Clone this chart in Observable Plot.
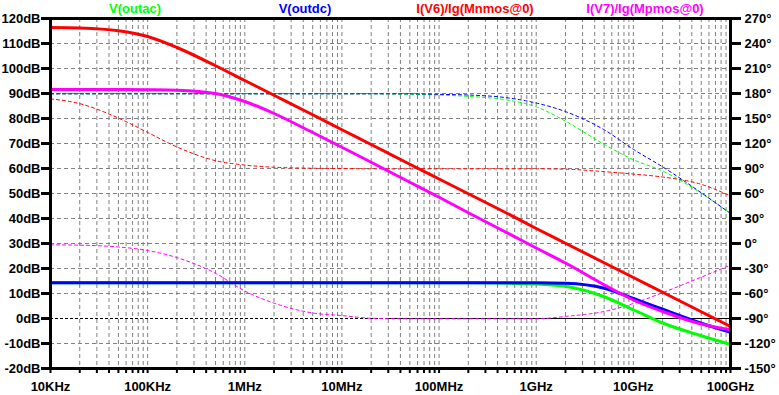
<!DOCTYPE html>
<html><head><meta charset="utf-8">
<script src="https://cdn.jsdelivr.net/npm/d3@7"></script>
<script src="https://cdn.jsdelivr.net/npm/@observablehq/plot@0.6"></script>
<style>
body{margin:0;background:#fff;}
#wrap{position:relative;width:779px;height:395px;font-family:"Liberation Sans",Arial,sans-serif;font-weight:bold;font-size:13px;}
#legend{position:absolute;top:2px;left:50px;width:680px;display:flex;line-height:13px;}
#legend span{flex:1;text-align:center;}
svg{display:block;}
</style></head><body>
<div id="wrap"><div id="legend"></div></div>
<script>
// Frequencies (Hz)
const freq = [1e4,2e4,5e4,1e5,2e5,5e5,1e6,2e6,5e6,1e7,2e7,5e7,1e8,2e8,5e8,1e9,2e9,5e9,1e10,2e10,5e10,1e11];
// Magnitudes (dB)
const outacMag = [14.3,14.3,14.3,14.3,14.3,14.3,14.3,14.3,14.3,14.3,14.3,14.3,14.3,14.3,14.1,13.8,12.9,8.7,3.5,-1.8,-6.9,-10.4];
const outdcMag = [14.3,14.3,14.3,14.3,14.3,14.3,14.3,14.3,14.3,14.3,14.3,14.3,14.3,14.3,14.3,14.3,14.1,12.1,8.0,3.7,-1.9,-5.5];
const nmosMag  = [116.4,116.2,115.1,112.8,108.4,101.1,95.2,89.3,81.5,75.5,69.6,61.7,55.8,49.9,42.1,36.0,30.1,22.3,16.4,10.5,2.7,-3.2];
const pmosMag  = [91.6,91.6,91.6,91.5,91.3,90.0,86.8,82.0,74.4,68.5,62.5,54.5,48.5,42.3,34.3,28.2,22.2,13.5,7.4,2.8,-2.2,-4.5];
// Phases (degrees)
const outacPhase = [179.6,179.6,179.6,179.6,179.6,179.6,179.6,179.6,179.6,179.6,179.6,179.0,178.2,176.5,172.3,164,146.8,119,100.5,87,60.3,36];
const outdcPhase = [179.6,179.6,179.6,179.6,179.6,179.6,179.6,179.6,179.6,179.6,179.6,179.6,179.0,178.2,174.9,168.6,158.3,136.5,113,92,60.9,36];
const nmosPhase  = [173.6,167.8,150.5,133.3,115.9,99.4,94.1,91.5,90.3,89.9,89.6,89.6,89.6,89.6,89.6,89.6,89.2,86.2,83.3,79.8,71,57];
const pmosPhase  = [-1.6,-2.0,-4.2,-8.4,-16.9,-35.8,-57,-71.6,-83.4,-86.5,-89.7,-90.4,-90.4,-90.4,-90.4,-90.4,-87.5,-81.6,-72,-59,-40.4,-26];

// Axis ticks and labels
const xTickFreqs = [1e4,1e5,1e6,1e7,1e8,1e9,1e10,1e11];
const xTickLabels = ["10KHz","100KHz","1MHz","10MHz","100MHz","1GHz","10GHz","100GHz"];
const dbTicks = [-20,-10,0,10,20,30,40,50,60,70,80,90,100,110,120];
const dbLabels = dbTicks.map(d => d + "dB");
const phaseTicks = [-150,-120,-90,-60,-30,0,30,60,90,120,150,180,210,240,270];
const phaseLabels = phaseTicks.map(p => p + "°");
const zeroSolidFrom = 3e7;

const seriesNames = ["V(outac)","V(outdc)","I(V6)/Ig(Mnmos@0)","I(V7)/Ig(Mpmos@0)"];
const seriesColors = ["#00ff00","#0000ff","#ff0000","#ff00ff"];
const mags = [outacMag, outdcMag, nmosMag, pmosMag];
const phases = [outacPhase, outdcPhase, nmosPhase, pmosPhase];

// phase axis (right) mapped onto the dB scale: -150..270 deg <-> -20..120 dB
const toDb = p => (p + 150) / 3 - 20;

const gridFreqs = [];
for (let k = 4; k <= 10; k++) for (let m = 1; m <= 9; m++) gridFreqs.push(m * Math.pow(10, k));
gridFreqs.push(1e11);

const grid = {stroke:"#808080", strokeDasharray:"4,3", strokeWidth:1};

const marks = [
  Plot.ruleX(gridFreqs, grid),
  Plot.ruleY(dbTicks.filter(d => d !== 0), grid),
  Plot.ruleY([0], {stroke:"black", strokeDasharray:"3,2", strokeWidth:1}),
  Plot.ruleY([0], {x1: zeroSolidFrom, x2: 1e11, stroke:"black", strokeWidth:1}),
];
phases.forEach((ph, s) => {
  marks.push(Plot.line(freq, {x: d => d, y: (d, i) => toDb(ph[i]), stroke: seriesColors[s], strokeWidth: 1, strokeDasharray: "3,3", curve: "monotone-x"}));
});
mags.forEach((mg, s) => {
  marks.push(Plot.line(freq, {x: d => d, y: (d, i) => mg[i], stroke: seriesColors[s], strokeWidth: 3, curve: "monotone-x"}));
});
marks.push(
  Plot.frame({stroke:"black", strokeWidth:3}),
  Plot.axisY(dbTicks, {anchor:"left", tickSize:9, tickPadding:1, strokeWidth:3, label:null, tickFormat: d => dbLabels[dbTicks.indexOf(d)]}),
  Plot.axisY(phaseTicks.map(toDb), {anchor:"right", tickSize:10, tickPadding:4, strokeWidth:3, label:null, tickFormat: d => phaseLabels[phaseTicks.map(toDb).indexOf(d)]}),
  Plot.axisX(gridFreqs, {anchor:"bottom", tickSize:5, strokeWidth:2, label:null, tickFormat: () => ""}),
  Plot.axisX(xTickFreqs, {anchor:"bottom", tickSize:0, tickPadding:13, label:null, tickFormat: d => xTickLabels[xTickFreqs.indexOf(d)]})
);

const chart = Plot.plot({
  width: 779, height: 395,
  marginLeft: 50, marginRight: 49, marginTop: 18, marginBottom: 27,
  x: {type:"log", domain:[1e4, 1e11]},
  y: {domain:[-20, 120]},
  style: {fontFamily:"'Liberation Sans', Arial, sans-serif", fontSize:"13px", fontWeight:"bold", background:"white", color:"black"},
  marks
});
document.getElementById("wrap").appendChild(chart);

const legend = document.getElementById("legend");
seriesNames.forEach((n, i) => {
  const sp = document.createElement("span");
  sp.textContent = n;
  sp.style.color = seriesColors[i];
  legend.appendChild(sp);
});
</script>
</body></html>
